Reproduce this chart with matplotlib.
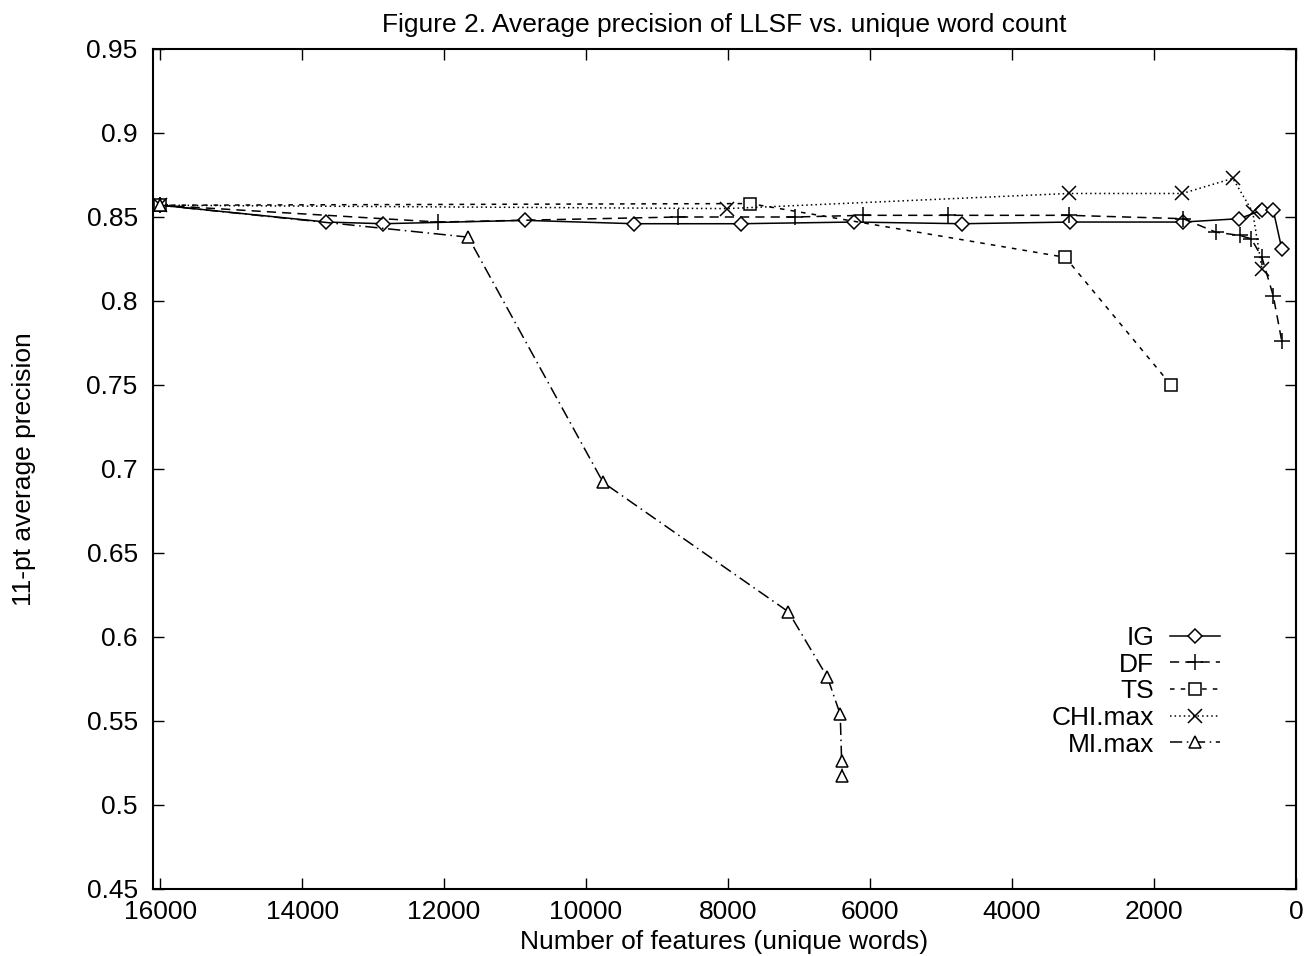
import numpy as np
from matplotlib import pyplot as plt
from matplotlib.ticker import FormatStrFormatter

plt.rcParams['font.family'] = ['Liberation Sans', 'DejaVu Sans']

# feature counts (unique words) and 11-pt average precision per method
ig_x = [16000, 13660, 12860, 10860, 9320, 7820, 6230, 4700, 3180, 1590, 800, 480, 320, 200]
ig_y = [0.857, 0.847, 0.846, 0.848, 0.846, 0.846, 0.847, 0.846, 0.847, 0.847, 0.849, 0.854, 0.854, 0.831]

df_x = [16000, 12085, 8705, 7060, 6100, 4900, 3200, 1590, 1130, 790, 630, 480, 320, 200]
df_y = [0.857, 0.847, 0.850, 0.850, 0.851, 0.851, 0.851, 0.849, 0.841, 0.839, 0.837, 0.826, 0.803, 0.776]

ts_x = [16000, 7690, 3250, 1760]
ts_y = [0.857, 0.858, 0.826, 0.750]

chi_x = [16000, 8010, 3200, 1600, 890, 610, 480]
chi_y = [0.857, 0.855, 0.864, 0.864, 0.873, 0.853, 0.819]

mi_x = [16000, 11660, 9760, 7150, 6600, 6420, 6400, 6390]
mi_y = [0.857, 0.838, 0.692, 0.615, 0.576, 0.554, 0.526, 0.517]

fs = 19

fig = plt.figure(figsize=(13.06, 9.56), dpi=100)
ax = fig.add_axes([153 / 1306, 1 - 889 / 956, (1296 - 153) / 1306, (889 - 49) / 956])

kw = dict(c='k', lw=1.1, mfc='white', mec='k', mew=1.1)
ax.plot(ig_x, ig_y, ls='-', marker='D', ms=7, label='IG', **kw)
ax.plot(df_x, df_y, ls=(0, (6, 4)), marker='+', ms=11, label='DF', **kw)
ax.plot(ts_x, ts_y, ls=(0, (3, 4)), marker='s', ms=9, label='TS', **kw)
ax.plot(chi_x, chi_y, ls=(0, (1, 2)), marker='x', ms=10, label='CHI.max', **kw)
ax.plot(mi_x, mi_y, ls=(0, (8, 3, 1, 3)), marker='^', ms=9, label='MI.max', **kw)

ax.set_xlim(16100, 0)
ax.set_ylim(0.45, 0.95)
ax.set_xticks(np.arange(16000, -1, -2000))
ax.set_yticks(np.arange(0.45, 0.951, 0.05))
ax.yaxis.set_major_formatter(FormatStrFormatter('%g'))
ax.tick_params(direction='in', length=8, width=1, top=True, right=True, labelsize=fs)
ax.tick_params(axis='x', pad=8)
ax.tick_params(axis='y', pad=11)
for s in ax.spines.values():
    s.set_linewidth(1.5)

ax.set_title('Figure 2. Average precision of LLSF vs. unique word count', fontsize=fs, pad=12)
ax.set_xlabel('Number of features (unique words)', fontsize=fs, labelpad=4)
ax.set_ylabel('11-pt average precision', fontsize=fs, labelpad=36)

ax.legend(loc='upper right', bbox_to_anchor=(1220 / 1306, 1 - 626 / 956), bbox_transform=fig.transFigure,
          frameon=False, markerfirst=False, fontsize=fs, handlelength=1.9, labelspacing=0.1,
          handletextpad=0.6, borderpad=0, borderaxespad=0)

fig.savefig('out.png', dpi=100)
